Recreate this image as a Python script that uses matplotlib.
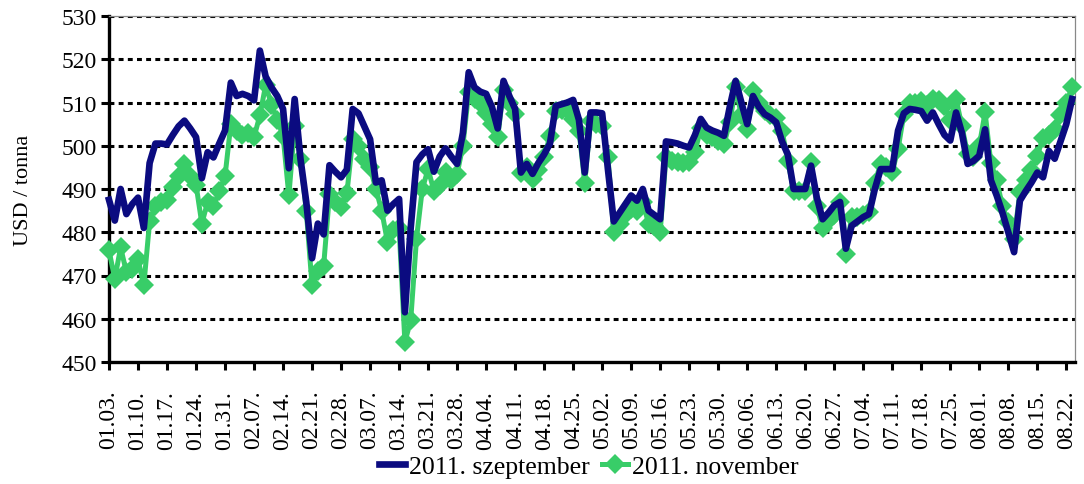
import matplotlib
matplotlib.use('Agg')
import matplotlib.pyplot as plt

plt.rcParams['font.family'] = ['Liberation Serif', 'DejaVu Serif']

# 2011. szeptember (daily values, trading days from 01.03.)
sept = [487.5, 482.7, 490.0, 484.2, 486.5, 488.0, 481.0, 496.0, 500.5, 500.5,
        500.3, 502.5, 504.5, 505.8, 504.0, 502.0, 492.5, 498.5, 497.3, 500.5,
        503.5, 514.6, 511.5, 512.0, 511.5, 510.5, 522.0, 516.0, 513.5, 511.5,
        508.5, 494.8, 510.8, 497.0, 487.0, 474.0, 482.0, 479.5, 495.5, 494.0,
        492.7, 494.5, 508.5, 507.5, 504.5, 501.5, 491.5, 492.0, 485.0, 486.5,
        487.7, 461.5, 481.0, 496.2, 498.0, 499.2, 494.0, 497.5, 499.4, 497.5,
        495.8, 503.0, 517.0, 513.5, 512.5, 512.0, 509.0, 504.0, 515.0, 511.5,
        508.5, 493.8, 495.8, 493.5, 496.0, 498.0, 500.5, 509.2, 509.6, 510.0,
        510.6, 506.0, 493.8, 507.7, 507.7, 507.5, 494.5, 482.5, 484.5, 486.5,
        488.5, 487.3, 490.0, 485.0, 484.0, 483.0, 501.0, 500.8, 500.5, 500.0,
        499.6, 502.5, 506.2, 504.2, 503.5, 503.0, 502.3, 509.0, 515.0, 510.0,
        505.0, 511.5, 509.0, 507.3, 506.5, 505.4, 501.0, 498.0, 490.0, 490.0,
        490.0, 495.4, 488.0, 483.0, 484.5, 486.2, 487.0, 476.2, 481.5, 482.5,
        483.5, 484.2, 490.0, 494.6, 494.6, 494.6, 503.5, 507.5, 508.5, 508.3,
        508.0, 505.8, 507.7, 505.0, 502.5, 501.2, 507.7, 503.0, 495.8, 496.5,
        497.7, 503.8, 492.0, 488.5, 484.5, 480.0, 475.4, 487.3, 489.5, 491.5,
        493.8, 492.7, 498.8, 497.0, 501.0, 505.0, 510.8]

# 2011. november
nov = [475.8, 469.2, 476.5, 470.8, 471.5, 473.8, 467.7, 482.5, 486.0, 487.0,
       487.5, 490.5, 493.0, 495.8, 493.0, 491.0, 482.0, 487.0, 486.0, 489.5,
       493.0, 505.0, 503.5, 502.5, 503.0, 502.0, 507.0, 514.0, 509.5, 506.0,
       502.3, 488.5, 504.6, 497.0, 485.0, 467.7, 471.0, 472.3, 488.8, 487.0,
       485.8, 489.0, 501.5, 500.0, 497.0, 495.0, 490.0, 485.0, 477.7, 480.5,
       481.0, 454.6, 459.6, 478.5, 490.0, 494.6, 489.6, 491.0, 494.0, 492.0,
       493.5, 500.0, 512.5, 510.8, 510.0, 507.5, 505.0, 502.0, 513.0, 510.0,
       507.3, 493.8, 495.0, 492.3, 494.5, 497.3, 502.3, 508.0, 508.3, 508.5,
       506.2, 503.5, 491.5, 505.8, 505.0, 504.6, 497.3, 480.0, 482.0, 484.0,
       485.4, 485.0, 487.0, 482.0, 481.5, 480.0, 497.3, 496.5, 496.2, 496.0,
       496.2, 498.5, 504.2, 502.5, 502.0, 501.0, 500.4, 505.4, 513.5, 507.0,
       503.8, 512.7, 510.0, 508.0, 507.0, 506.5, 503.5, 496.5, 489.6, 489.6,
       489.6, 496.2, 486.0, 481.0, 482.5, 484.0, 487.0, 475.0, 483.5, 483.5,
       484.0, 484.6, 491.5, 495.8, 495.0, 494.0, 499.2, 507.3, 510.0, 510.0,
       510.4, 509.5, 510.8, 510.5, 509.2, 506.0, 510.8, 504.6, 498.0, 497.5,
       500.0, 507.7, 496.0, 492.0, 486.0, 482.3, 478.5, 489.2, 492.0, 494.5,
       497.7, 501.9, 502.5, 503.8, 507.0, 510.0, 513.5]

tick_labels = ['01.03.', '01.10.', '01.17.', '01.24.', '01.31.', '02.07.', '02.14.',
               '02.21.', '02.28.', '03.07.', '03.14.', '03.21.', '03.28.', '04.04.',
               '04.11.', '04.18.', '04.25.', '05.02.', '05.09.', '05.16.', '05.23.',
               '05.30.', '06.06.', '06.13.', '06.20.', '06.27.', '07.04.', '07.11.',
               '07.18.', '07.25.', '08.01.', '08.08.', '08.15.', '08.22.']

series_names = ['2011. szeptember', '2011. november']
y_label = 'USD / tonna'

navy = '#0B0B80'
green = '#38CD68'

fig = plt.figure(figsize=(10.84, 4.85), dpi=100)
W, H = 1084, 485
ax = fig.add_axes([109 / W, 1 - 363 / H, (1075 - 109) / W, (363 - 17) / H])

x = list(range(len(sept)))
l_nov, = ax.plot(x, nov, color=green, lw=3.6, marker='D', ms=10,
                 markeredgewidth=0, clip_on=False, zorder=3, label=series_names[1])
l_sep, = ax.plot(x, sept, color=navy, lw=4.8, clip_on=False, zorder=4,
                 solid_joinstyle='round', label=series_names[0])

ax.set_ylim(450, 530)
ax.set_yticks(range(450, 531, 10))
ax.set_xlim(0, 166.5)
ax.set_xticks(range(0, 5 * len(tick_labels), 5))
ax.set_xticklabels(tick_labels, rotation=90)

for v in range(460, 531, 10):
    ax.axhline(v, color='black', lw=2.2, ls=(0, (1.6, 1.4)), zorder=1)

for s in ['left', 'bottom']:
    ax.spines[s].set_linewidth(2.4)
    ax.spines[s].set_color('black')
for s in ['top', 'right']:
    ax.spines[s].set_linewidth(0.9)
    ax.spines[s].set_color('#888888')

ax.tick_params(axis='both', direction='out', length=6, width=2.2, labelsize=17,
               colors='black')
ax.tick_params(axis='x', pad=14)
ax.tick_params(axis='y', pad=3)

ax.set_ylabel(y_label, fontsize=16)
ax.yaxis.set_label_coords(-0.079, 0.5)

fig.legend([l_sep, l_nov], series_names, loc='center',
           bbox_to_anchor=(0.543, 0.037), ncol=2, frameon=False,
           handlelength=1.0, handletextpad=0.15, columnspacing=0.5,
           fontsize=18.5, borderaxespad=0, borderpad=0)

fig.savefig('out.png', dpi=100)
